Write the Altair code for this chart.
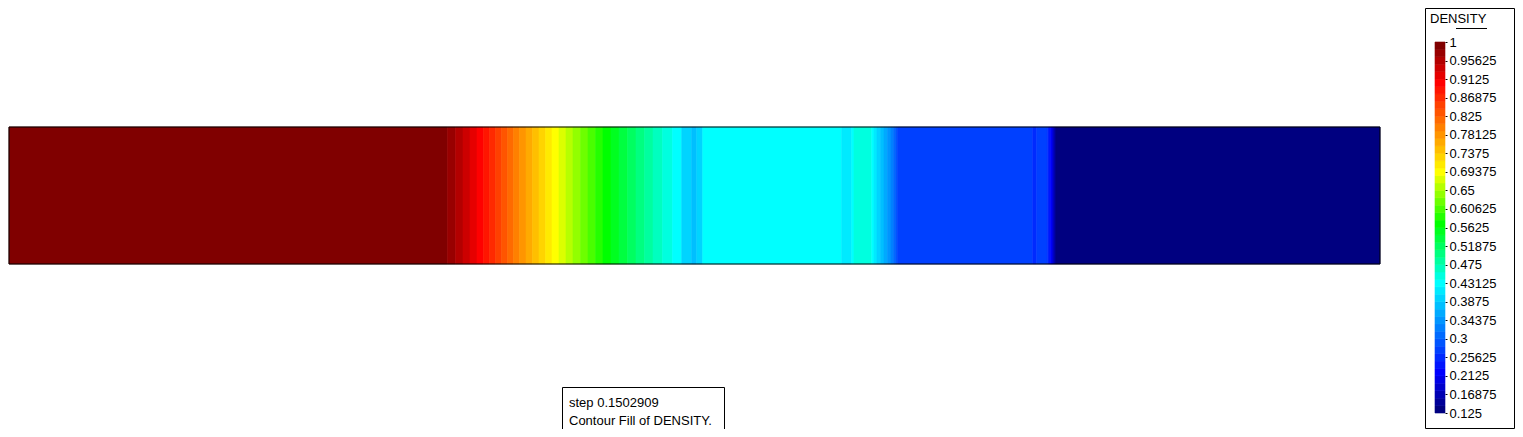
import altair as alt
import pandas as pd

# ---------------- data ----------------
# left edge of every colour stripe along the tube (x in [0, 1]) and the stripe's density
stripe_x = [0.0, 0.31984, 0.32567, 0.33114, 0.33625, 0.34136, 0.34610, 0.35047, 0.35485,
            0.35923, 0.36360, 0.36798, 0.37236, 0.37710, 0.38184, 0.38658, 0.39132, 0.39606,
            0.40117, 0.40627, 0.41138, 0.41685, 0.42232, 0.42779, 0.43326, 0.43910, 0.44493,
            0.45113, 0.45733, 0.46353, 0.46973, 0.47666, 0.48395, 0.49066, 0.49796, 0.50160,
            0.50598, 0.60737, 0.61466, 0.61634, 0.62925, 0.63093, 0.63311, 0.63567, 0.63822,
            0.64077, 0.64333, 0.64515, 0.64661, 0.64807, 0.74668, 0.74960, 0.75733, 0.75857,
            0.75966, 0.76076, 0.76149, 0.76222, 0.76295, 0.76368]
stripe_rho = [1.0, 0.974, 0.956, 0.939, 0.921, 0.904, 0.886, 0.869, 0.851,
              0.834, 0.816, 0.799, 0.781, 0.764, 0.746, 0.729, 0.711, 0.694,
              0.676, 0.659, 0.641, 0.624, 0.606, 0.589, 0.571, 0.554, 0.536,
              0.519, 0.501, 0.484, 0.466, 0.449, 0.431, 0.396, 0.379, 0.396,
              0.426, 0.414, 0.431, 0.449, 0.431, 0.414, 0.396, 0.379, 0.361,
              0.344, 0.326, 0.309, 0.291, 0.268, 0.256, 0.268, 0.256, 0.239,
              0.221, 0.204, 0.186, 0.169, 0.151, 0.125]
x_max = 1.0

rho_min, rho_max, n_levels = 0.125, 1.0, 50
legend_labels = [1, 0.95625, 0.9125, 0.86875, 0.825, 0.78125, 0.7375, 0.69375, 0.65,
                 0.60625, 0.5625, 0.51875, 0.475, 0.43125, 0.3875, 0.34375, 0.3,
                 0.25625, 0.2125, 0.16875, 0.125]
legend_title = "DENSITY"
info_lines = ["step 0.1502909", "Contour Fill of DENSITY."]

# ---------------- styling ----------------
W, H = 1371, 137
FONT = "Liberation Sans"

step = (rho_max - rho_min) / n_levels
thresholds = [rho_min + step * i for i in range(1, n_levels)]

# rainbow palette anchors: (level index, rgb)
anchors = [(0, (0, 0, 128)), (5, (0, 0, 255)), (17, (0, 255, 255)), (25, (0, 255, 0)),
           (32, (255, 255, 0)), (44, (255, 0, 0)), (49, (128, 0, 0))]


def palette(n):
    out = []
    for i in range(n):
        for (a, ca), (b, cb) in zip(anchors[:-1], anchors[1:]):
            if a <= i <= b:
                t = (i - a) / (b - a)
                rgb = [round(ca[k] + (cb[k] - ca[k]) * t) for k in range(3)]
                out.append("#%02x%02x%02x" % tuple(rgb))
                break
    return out


colors = palette(n_levels)
cscale = alt.Scale(type="threshold", domain=thresholds, range=colors)

field = pd.DataFrame({
    "x0": stripe_x,
    "x1": stripe_x[1:] + [x_max],
    "rho": stripe_rho,
})

bands = pd.DataFrame({
    "lo": [rho_min + step * i for i in range(n_levels)],
    "hi": [rho_min + step * (i + 1) for i in range(n_levels)],
})
bands["mid"] = (bands["lo"] + bands["hi"]) / 2

one = pd.DataFrame({"k": [0]})

field_layer = alt.Chart(field).mark_rect(strokeWidth=0.6).encode(
    x=alt.X("x0:Q", scale=alt.Scale(domain=[0, x_max], nice=False, zero=False), axis=None),
    x2="x1",
    y=alt.value(0),
    y2=alt.value(H),
    color=alt.Color("rho:Q", scale=cscale, legend=None),
    stroke=alt.Stroke("rho:Q", scale=cscale, legend=None),
)

border = alt.Chart(one).mark_rect(filled=False, stroke="black", strokeWidth=1).encode(
    x=alt.value(0), x2=alt.value(W), y=alt.value(0), y2=alt.value(H)
)

legend_bar = alt.Chart(bands).mark_rect(strokeWidth=0.6).encode(
    x=alt.value(1426),
    x2=alt.value(1436),
    y=alt.Y("lo:Q",
            scale=alt.Scale(domain=[rho_min, rho_max], range=[286, -85], nice=False, zero=False),
            axis=alt.Axis(orient="right", offset=65, values=legend_labels,
                          labelExpr="'' + datum.value",
                          domain=False, grid=False, ticks=True, tickSize=2, tickColor="black",
                          tickWidth=1, labelPadding=2, labelFont=FONT, labelFontSize=13,
                          labelColor="black", title=None, labelOverlap=False,
                          labelBound=False, labelFlush=False)),
    y2="hi",
    color=alt.Color("mid:Q", scale=cscale, legend=None),
    stroke=alt.Stroke("mid:Q", scale=cscale, legend=None),
)

legend_box = alt.Chart(one).mark_rect(filled=False, stroke="black", strokeWidth=1).encode(
    x=alt.value(1416.5), x2=alt.value(1505.5), y=alt.value(-118.5), y2=alt.value(301.5)
)

legend_title_mark = alt.Chart(one).mark_text(
    text=legend_title, font=FONT, fontSize=13, align="left", baseline="middle", color="black"
).encode(x=alt.value(1421), y=alt.value(-108))

underline = alt.Chart(one).mark_rule(color="black", strokeWidth=1).encode(
    x=alt.value(1447), x2=alt.value(1478), y=alt.value(-98.5)
)

info_box = alt.Chart(one).mark_rect(filled=False, stroke="black", strokeWidth=1).encode(
    x=alt.value(553.5), x2=alt.value(715.5), y=alt.value(260.5), y2=alt.value(320)
)

info_df = pd.DataFrame({"t": info_lines, "row": [0, 1]})
info_text = alt.Chart(info_df).mark_text(
    font=FONT, fontSize=13, align="left", baseline="middle", color="black"
).encode(
    text="t:N",
    x=alt.value(560),
    y=alt.Y("row:Q", scale=alt.Scale(domain=[0, 1], range=[276, 294], nice=False, zero=False),
            axis=None),
)

chart = alt.layer(
    field_layer, border, legend_bar, legend_box, legend_title_mark, underline, info_box, info_text
).resolve_scale(y="independent").properties(
    width=W, height=H,
    autosize=alt.AutoSizeParams(type="none"),
    padding={"left": 1, "top": 119, "right": 135, "bottom": 165},
    background="white",
).configure_view(stroke=None)

chart.save("out.html", embed_options={"renderer": "svg", "actions": False})
